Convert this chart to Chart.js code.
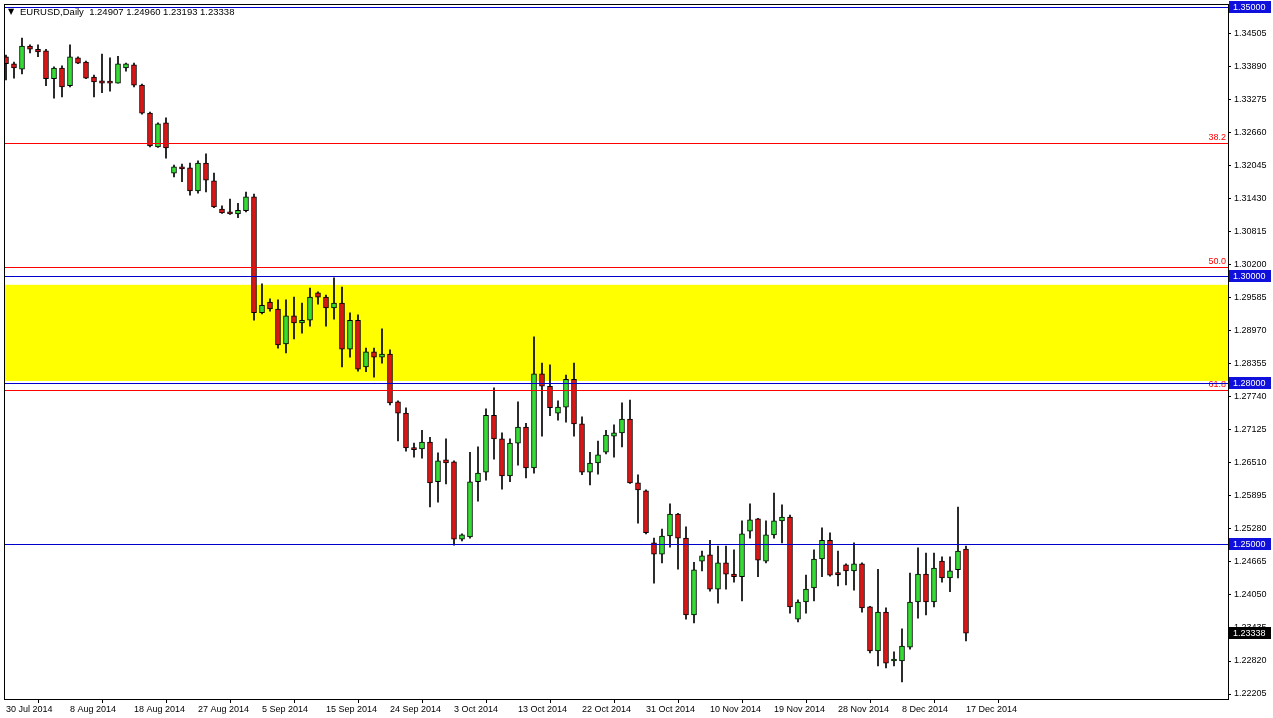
<!DOCTYPE html>
<html>
<head>
<meta charset="utf-8">
<script src="https://cdn.jsdelivr.net/npm/chart.js@4"></script>
<style>
  html, body { margin: 0; padding: 0; background: #fff; }
  #wrap { position: relative; width: 1273px; height: 718px; }
</style>
</head>
<body>
<div id="wrap"><canvas id="chart"></canvas></div>
<script>
// EURUSD daily candles, 30 Jul 2014 .. 17 Dec 2014 (broker with Sunday bars)
const opens = [
  1.3408, 1.3395, 1.3385, 1.3428, 1.3422, 1.3419, 1.3367, 1.3387, 1.3354, 1.3406,
  1.3398, 1.3370, 1.3363, 1.3361, 1.3359, 1.3387, 1.3393, 1.3355, 1.3303, 1.3240,
  1.3285, 1.3191, 1.3203, 1.3201, 1.3158, 1.3210, 1.3177, 1.3124, 1.3119, 1.3115,
  1.3121, 1.3147, 1.2931, 1.2951, 1.2938, 1.2873, 1.2925, 1.2912, 1.2917, 1.2968,
  1.2960, 1.2940, 1.2949, 1.2863, 1.2917, 1.2830, 1.2858, 1.2848, 1.2854, 1.2765,
  1.2744, 1.2677, 1.2677, 1.2690, 1.2616, 1.2657, 1.2653, 1.2509, 1.2513, 1.2616,
  1.2634, 1.2740, 1.2696, 1.2627, 1.2688, 1.2718, 1.2642, 1.2817, 1.2794, 1.2744,
  1.2755, 1.2807, 1.2724, 1.2634, 1.2651, 1.2671, 1.2701, 1.2707, 1.2733, 1.2614,
  1.2599, 1.2502, 1.2481, 1.2515, 1.2556, 1.2511, 1.2368, 1.2468, 1.2480, 1.2416,
  1.2465, 1.2444, 1.2439, 1.2524, 1.2547, 1.2468, 1.2517, 1.2543, 1.2550, 1.2360,
  1.2392, 1.2418, 1.2472, 1.2507, 1.2444, 1.2461, 1.2450, 1.2463, 1.2383, 1.2301,
  1.2373, 1.2282, 1.2282, 1.2308, 1.2392, 1.2444, 1.2392, 1.2468, 1.2437, 1.2452,
  1.24907
];
const highs = [
  1.3411, 1.3398, 1.3443, 1.3430, 1.3430, 1.3422, 1.3389, 1.3391, 1.3430, 1.3408,
  1.3400, 1.3374, 1.3413, 1.3406, 1.3409, 1.3396, 1.3396, 1.3357, 1.3305, 1.3285,
  1.3294, 1.3206, 1.3208, 1.3210, 1.3214, 1.3227, 1.3191, 1.3130, 1.3143, 1.3135,
  1.3156, 1.3152, 1.2985, 1.2957, 1.2955, 1.2955, 1.2960, 1.2949, 1.2977, 1.2970,
  1.2964, 1.2996, 1.2979, 1.2931, 1.2927, 1.2865, 1.2865, 1.2901, 1.2862, 1.2767,
  1.2754, 1.2688, 1.2712, 1.2699, 1.2670, 1.2696, 1.2655, 1.2519, 1.2671, 1.2681,
  1.2752, 1.2791, 1.2707, 1.2696, 1.2765, 1.2725, 1.2886, 1.2837, 1.2834, 1.2767,
  1.2815, 1.2837, 1.2737, 1.2671, 1.2692, 1.2712, 1.2722, 1.2763, 1.2768, 1.2629,
  1.2601, 1.2511, 1.2528, 1.2575, 1.2557, 1.2532, 1.2466, 1.2487, 1.2507, 1.2496,
  1.2496, 1.2489, 1.2543, 1.2575, 1.2548, 1.2543, 1.2595, 1.2573, 1.2554, 1.2396,
  1.2442, 1.2489, 1.2530, 1.2521, 1.2487, 1.2463, 1.2502, 1.2465, 1.2384, 1.2453,
  1.2381, 1.2299, 1.2342, 1.2446, 1.2493, 1.2483, 1.2483, 1.2476, 1.2476, 1.2569,
  1.24960
];
const lows = [
  1.3365, 1.3368, 1.3376, 1.3415, 1.3408, 1.3354, 1.3331, 1.3333, 1.3352, 1.3395,
  1.3367, 1.3333, 1.3341, 1.3344, 1.3359, 1.3381, 1.3352, 1.3301, 1.3240, 1.3239,
  1.3219, 1.3184, 1.3175, 1.3150, 1.3154, 1.3156, 1.3127, 1.3116, 1.3114, 1.3108,
  1.3119, 1.2917, 1.2929, 1.2934, 1.2865, 1.2856, 1.2882, 1.2893, 1.2906, 1.2947,
  1.2906, 1.2919, 1.2830, 1.2848, 1.2822, 1.2821, 1.2811, 1.2837, 1.2759, 1.2692,
  1.2673, 1.2662, 1.2660, 1.2569, 1.2578, 1.2612, 1.2498, 1.2506, 1.2511, 1.2580,
  1.2619, 1.2658, 1.2602, 1.2616, 1.2647, 1.2623, 1.2632, 1.2701, 1.2739, 1.2731,
  1.2727, 1.2701, 1.2629, 1.2610, 1.2630, 1.2668, 1.2662, 1.2681, 1.2613, 1.2539,
  1.2519, 1.2427, 1.2465, 1.2494, 1.2453, 1.2360, 1.2353, 1.2450, 1.2412, 1.2390,
  1.2416, 1.2429, 1.2394, 1.2511, 1.2439, 1.2465, 1.2511, 1.2502, 1.2371, 1.2355,
  1.2371, 1.2394, 1.2439, 1.2440, 1.2422, 1.2424, 1.2414, 1.2373, 1.2297, 1.2273,
  1.2269, 1.2273, 1.2243, 1.2304, 1.2362, 1.2368, 1.2383, 1.2429, 1.2411, 1.2437,
  1.23193
];
const closes = [
  1.3395, 1.3387, 1.3428, 1.3422, 1.3417, 1.3367, 1.3387, 1.3352, 1.3408, 1.3396,
  1.3368, 1.3361, 1.3359, 1.3359, 1.3395, 1.3395, 1.3355, 1.3303, 1.3242, 1.3283,
  1.3238, 1.3203, 1.3199, 1.3158, 1.3210, 1.3178, 1.3128, 1.3117, 1.3115, 1.3122,
  1.3147, 1.2931, 1.2945, 1.2938, 1.2871, 1.2925, 1.2912, 1.2917, 1.2960, 1.2960,
  1.2940, 1.2949, 1.2863, 1.2917, 1.2826, 1.2858, 1.2848, 1.2854, 1.2763, 1.2744,
  1.2679, 1.2676, 1.2690, 1.2614, 1.2655, 1.2651, 1.2509, 1.2517, 1.2616, 1.2632,
  1.2740, 1.2696, 1.2627, 1.2688, 1.2718, 1.2642, 1.2817, 1.2794, 1.2754, 1.2755,
  1.2807, 1.2724, 1.2634, 1.2651, 1.2666, 1.2703, 1.2707, 1.2733, 1.2614, 1.2601,
  1.2521, 1.2481, 1.2515, 1.2556, 1.2511, 1.2368, 1.2452, 1.2478, 1.2416, 1.2465,
  1.2444, 1.2439, 1.2519, 1.2545, 1.2470, 1.2517, 1.2543, 1.2550, 1.2383, 1.2392,
  1.2416, 1.2472, 1.2507, 1.2442, 1.2443, 1.2450, 1.2463, 1.2381, 1.2301, 1.2373,
  1.2278, 1.2284, 1.2310, 1.2392, 1.2444, 1.2392, 1.2455, 1.2437, 1.2450, 1.2487,
  1.23338
];

// one date label every 8 bars
const dateLabels = ['30 Jul 2014', '8 Aug 2014', '18 Aug 2014', '27 Aug 2014', '5 Sep 2014',
  '15 Sep 2014', '24 Sep 2014', '3 Oct 2014', '13 Oct 2014', '22 Oct 2014', '31 Oct 2014',
  '10 Nov 2014', '19 Nov 2014', '28 Nov 2014', '8 Dec 2014', '17 Dec 2014'];
const priceTicks = [1.34505, 1.33890, 1.33275, 1.32660, 1.32045, 1.31430, 1.30815, 1.30200,
  1.29585, 1.28970, 1.28355, 1.27740, 1.27125, 1.26510, 1.25895, 1.25280, 1.24665, 1.24050,
  1.23435, 1.22820, 1.22205];

// drawn objects
const roundLevels = [1.35000, 1.30000, 1.28000, 1.25000];
const fibLevels = [1.3247, 1.3016, 1.2787];
const fibNames = ['38.2', '50.0', '61.8'];
const zoneTop = 1.2983;
const zoneBottom = 1.2804;

const UP = '#33dd33';
const DOWN = '#dd1515';
const FAMILY = 'Liberation Sans, Arial, sans-serif';
const FONT = { family: FAMILY, size: 9 };

const bodies = opens.map((o, i) => ({ x: i, y: [o, closes[i]] }));
const wicks = lows.map((l, i) => ({ x: i, y: [l, highs[i]] }));
const bodyColors = opens.map((o, i) => closes[i] >= o ? UP : DOWN);

// horizontal 1px line across the plot
function hline(ctx, a, py, color) {
  ctx.fillStyle = color;
  ctx.fillRect(a.left, Math.round(py), a.right - a.left, 1);
}

const overlay = {
  id: 'overlay',
  beforeDatasetsDraw(chart) {
    const { ctx, chartArea: a, scales: { y } } = chart;
    const t = y.getPixelForValue(zoneTop);
    const b = y.getPixelForValue(zoneBottom);
    ctx.save();
    ctx.fillStyle = '#ffff00';
    ctx.fillRect(a.left + 1, t, a.right - a.left - 1, b - t);
    ctx.restore();
  },
  afterDatasetsDraw(chart) {
    const { ctx, chartArea: a, scales: { y } } = chart;
    ctx.save();
    ctx.font = '9px ' + FAMILY;
    ctx.textAlign = 'right';
    ctx.textBaseline = 'bottom';
    fibLevels.forEach((v, i) => {
      const py = y.getPixelForValue(v);
      hline(ctx, a, py, '#ff0000');
      ctx.fillText(fibNames[i], a.right - 2, Math.round(py) - 1);
    });
    roundLevels.forEach(v => hline(ctx, a, y.getPixelForValue(v), '#0000cc'));
    ctx.restore();
  },
  afterDraw(chart) {
    const { ctx, chartArea: a, scales: { y } } = chart;
    ctx.save();
    // frame
    ctx.strokeStyle = '#000';
    ctx.lineWidth = 1;
    ctx.strokeRect(a.left + 0.5, a.top + 0.5, a.right - a.left, a.bottom - a.top);

    // price boxes on the axis
    ctx.font = '9px ' + FAMILY;
    ctx.textAlign = 'left';
    ctx.textBaseline = 'middle';
    const box = (v, bg) => {
      const py = Math.round(y.getPixelForValue(v));
      ctx.fillStyle = bg;
      ctx.fillRect(a.right + 1, py - 6, 42, 12);
      ctx.fillStyle = '#fff';
      ctx.fillText(v.toFixed(5), a.right + 5, py + 0.5);
    };
    roundLevels.forEach(v => box(v, '#1010dd'));
    box(closes[closes.length - 1], '#000');

    // header
    ctx.fillStyle = '#000';
    ctx.font = '8px DejaVu Sans, sans-serif';
    ctx.fillText('\u25BC', 8, 12);
    ctx.font = '9.5px ' + FAMILY;
    const last = opens.length - 1;
    ctx.fillText('EURUSD,Daily  ' + [opens[last], highs[last], lows[last], closes[last]]
      .map(v => v.toFixed(5)).join(' '), 20, 12);
    ctx.restore();
  }
};

new Chart(document.getElementById('chart'), {
  type: 'bar',
  data: {
    datasets: [
      {
        label: 'body',
        data: bodies,
        backgroundColor: bodyColors,
        borderColor: '#000',
        borderWidth: 1,
        borderSkipped: false,
        barThickness: 5,
        minBarLength: 2,
        grouped: false,
        order: 1
      },
      {
        label: 'wick',
        data: wicks,
        backgroundColor: '#000',
        borderWidth: 0,
        barThickness: 1,
        grouped: false,
        order: 2
      }
    ]
  },
  options: {
    responsive: true,
    maintainAspectRatio: false,
    animation: false,
    devicePixelRatio: 1,
    layout: { padding: { left: 4, top: 4, right: 0, bottom: 0 } },
    plugins: {
      legend: { display: false },
      tooltip: { enabled: false }
    },
    scales: {
      x: {
        type: 'linear',
        min: -0.25,
        max: 152.75,
        offset: false,
        grid: { drawOnChartArea: false, tickLength: 4, tickColor: '#000' },
        border: { color: '#000' },
        ticks: {
          align: 'start',
          padding: 1,
          color: '#000',
          font: FONT,
          maxRotation: 0,
          autoSkip: false,
          callback: (v) => dateLabels[Math.round(v / 8)]
        },
        afterBuildTicks: (s) => { s.ticks = dateLabels.map((_, i) => ({ value: i * 8 })); },
        afterFit: (s) => { s.height = 19; s.paddingLeft = 0; s.paddingRight = 0; }
      },
      y: {
        position: 'right',
        min: 1.22112,
        max: 1.35063,
        grid: { drawOnChartArea: false, tickLength: 3, tickColor: '#000' },
        border: { color: '#000' },
        ticks: {
          padding: 3,
          color: '#000',
          font: FONT,
          autoSkip: false,
          callback: (v) => v.toFixed(5)
        },
        afterBuildTicks: (s) => { s.ticks = priceTicks.map(v => ({ value: v })); },
        afterFit: (s) => { s.width = 45; s.paddingTop = 0; s.paddingBottom = 0; }
      }
    }
  },
  plugins: [overlay]
});
</script>
</body>
</html>
